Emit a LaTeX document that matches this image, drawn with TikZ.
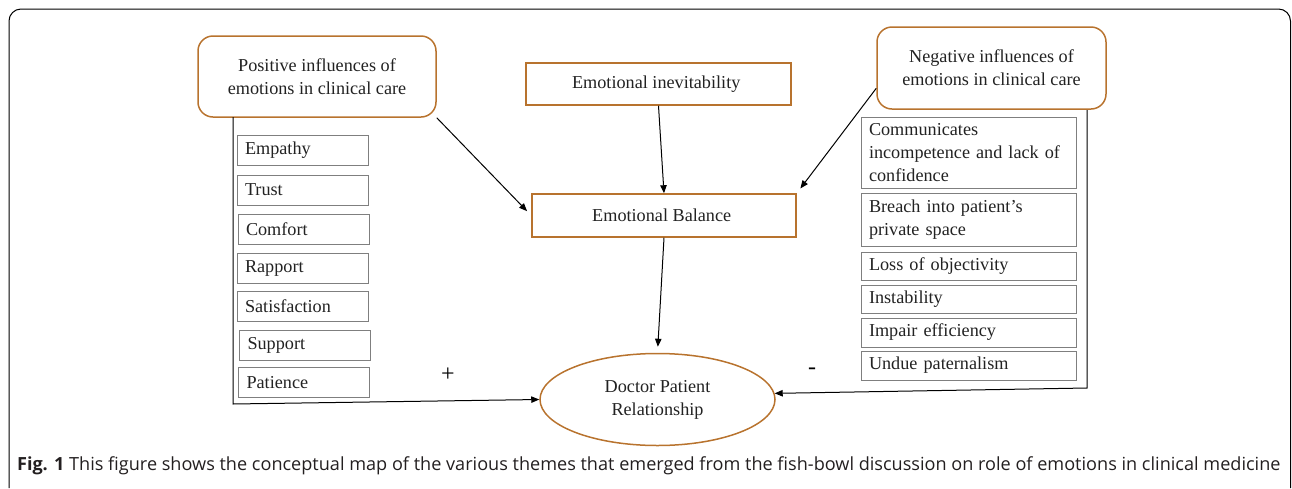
\documentclass[tikz,border=0pt]{standalone}
\usepackage{fontspec}
\setmainfont{Liberation Serif}
\newfontfamily\capfont{Open Sans}
\definecolor{emText}{HTML}{222222}
\definecolor{emBrown}{HTML}{B8732E}
\definecolor{emGrey}{HTML}{7F7F7F}
\definecolor{emCap}{HTML}{231F20}
\usetikzlibrary{calc,arrows.meta,shapes.geometric}
\newcommand{\figtag}[1]{{\bfseries #1}}

\begin{document}
\begin{tikzpicture}[x=0.5pt, y=-0.5pt,
  font=\fontsize{9.1}{11.5}\selectfont,
  theme/.style={draw=emBrown, line width=0.75pt, rounded corners=7.5pt, text=emText,
    align=center, inner sep=0pt},
  core/.style={draw=emBrown, line width=0.75pt, text=emText, align=center, inner sep=0pt},
  item/.style={draw=emGrey, line width=0.5pt, text=emText, align=left,
    inner xsep=4pt, inner ysep=0pt},
  posItem/.style={item, text width=57.5pt, minimum height=15pt},
  negItem/.style={item, text width=99.5pt},
  arr/.style={-{Triangle[length=4pt, width=3.2pt]}, line width=0.5pt, color=black}
]
  \useasboundingbox (0,0) rectangle (1292,488);
  \draw[line width=0.5pt, rounded corners=6pt] (9,488) -- (9,9) -- (1290.5,9) -- (1290.5,488);

  \node[theme, minimum width=119pt, minimum height=40.5pt] (pos) at (317,76.5) {
    Positive influences of\\emotions in clinical care
  };
  \node[core, minimum width=132.5pt, minimum height=21pt] (inev) at (658.5,84) {
    Emotional inevitability
  };
  \node[theme, minimum width=114.5pt, minimum height=41pt] (neg) at (991.5,68) {
    Negative influences of\\emotions in clinical care
  };
  \node[core, minimum width=132pt, minimum height=21.5pt] (bal) at (664,215.5) {
    Emotional Balance
  };
  \node[core, ellipse, minimum width=117.5pt, minimum height=46pt] (dpr) at (657.5,399.5) {
    Doctor Patient\\Relationship
  };

  \node[posItem] (empathy) at (302.5,150) {Empathy};
  \node[posItem] (trust) at (302.5,190) {Trust};
  \node[posItem] (comfort) at (303.5,229) {Comfort};
  \node[posItem] (rapport) at (302.5,268) {Rapport};
  \node[posItem] (satisf) at (302.5,306.5) {Satisfaction};
  \node[posItem] (support) at (305,345.5) {Support};
  \node[posItem] (patience) at (304,382.5) {Patience};

  \node[negItem, minimum height=35.5pt] (incomp) at (968.5,152.5) {
    Communicates\\incompetence and lack of\\confidence
  };
  \node[negItem, minimum height=26.5pt] (breach) at (968.5,219.5) {
    Breach into patient's\\private space
  };
  \node[negItem, minimum height=14pt] (objloss) at (968.5,266) {Loss of objectivity};
  \node[negItem, minimum height=14pt] (instab) at (968.5,299) {Instability};
  \node[negItem, minimum height=14.5pt] (impair) at (968.5,332.5) {Impair efficiency};
  \node[negItem, minimum height=14.5pt] (pater) at (968.5,365.5) {Undue paternalism};

  \node[font=\fontsize{12}{12}\selectfont] (plus) at (448,375) {+};
  \node[font=\fontsize{12}{12}\selectfont] (minus) at (812,371) {-};

  \coordinate (posfoot) at (233,117);
  \coordinate (poscorner) at (233,404);
  \coordinate (negfoot) at (1087,110);
  \coordinate (negcorner) at (1087,388);

  \draw[arr, shorten >=3pt] (pos.south east) -- (bal.west);
  \draw[arr] (inev.south) -- (bal.north);
  \draw[arr, shorten >=3pt] (neg.190) -- (bal.north east);
  \draw[arr, shorten >=3pt] (bal.south) -- (dpr.north);
  \draw[arr] (posfoot) -- (poscorner) -- (dpr.west);
  \draw[arr] (negfoot) -- (negcorner) -- (dpr.3);

  \node[anchor=base west, text=emCap, font=\capfont\fontsize{9.05}{10}\selectfont] (cap) at (10,470)
    {\figtag{Fig. 1} This figure shows the conceptual map of the various themes that emerged from the fish-bowl discussion on role of emotions in clinical medicine};
\end{tikzpicture}
\end{document}
